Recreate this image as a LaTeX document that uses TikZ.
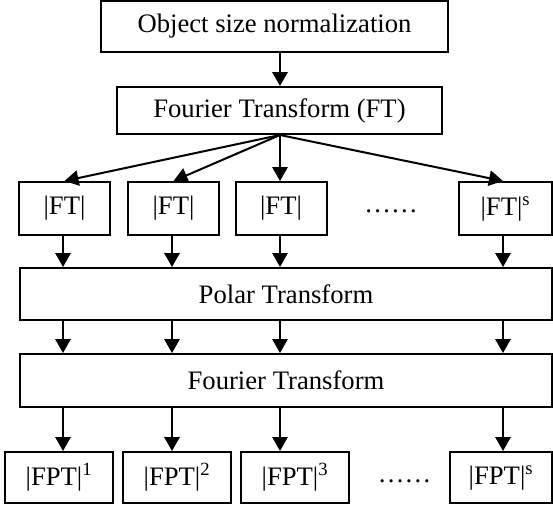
\documentclass[tikz,border=0pt]{standalone}
\usepackage{fontspec}
\setmainfont{Liberation Serif}
\usetikzlibrary{arrows.meta}
\begin{document}
\begin{tikzpicture}[x=0.75pt,y=-0.75pt,
  box/.style={draw=black,line width=1.5pt,inner sep=0pt,align=center,
    font=\fontsize{20}{24}\selectfont},
  dots/.style={inner sep=0pt,font=\fontsize{20}{24}\selectfont},
  arr/.style={line width=1.5pt,-{Triangle[width=11.5pt,length=10.5pt]}}]
\useasboundingbox (0,0) rectangle (553,508);
% top boxes
\node[box,minimum width=347*0.75pt,minimum height=51*0.75pt] (obj) at (274.5,26.5) {Object size normalization};
\node[box,minimum width=325*0.75pt,minimum height=47*0.75pt] (ft) at (279.5,110.5) {Fourier Transform (FT)};
% |FT| row
\node[box,minimum width=91*0.75pt,minimum height=53*0.75pt] (f1) at (64.5,208.5) {|FT|};
\node[box,minimum width=91*0.75pt,minimum height=53*0.75pt] (f2) at (173.5,208.5) {|FT|};
\node[box,minimum width=91*0.75pt,minimum height=53*0.75pt] (f3) at (281,208.5) {|FT|};
\node[dots] (fd) at (391,211) {……};
\node[box,minimum width=93*0.75pt,minimum height=53*0.75pt] (fs) at (505.5,208.5) {|FT|\textsuperscript{s}};
% wide boxes
\node[box,minimum width=532*0.75pt,minimum height=52*0.75pt] (polar) at (286,294) {Polar Transform};
\node[box,minimum width=532*0.75pt,minimum height=53*0.75pt] (four) at (286,380.5) {Fourier Transform};
% |FPT| row
\node[box,minimum width=108*0.75pt,minimum height=51*0.75pt] (p1) at (59,477.5) {|FPT|\textsuperscript{1}};
\node[box,minimum width=108*0.75pt,minimum height=51*0.75pt] (p2) at (177,477.5) {|FPT|\textsuperscript{2}};
\node[box,minimum width=108*0.75pt,minimum height=51*0.75pt] (p3) at (295,477.5) {|FPT|\textsuperscript{3}};
\node[dots] (pd) at (404.5,481) {……};
\node[box,minimum width=102*0.75pt,minimum height=51*0.75pt] (ps) at (501,477.5) {|FPT|\textsuperscript{s}};
% column coordinates for arrows
\coordinate (c1) at (63,0);
\coordinate (c2) at (172,0);
\coordinate (c3) at (280,0);
\coordinate (c4) at (503,0);
% arrows
\draw[arr] (c3 |- obj.south) -- (c3 |- ft.north);
\draw[arr] (c3 |- ft.south) -- (f1.north);
\draw[arr] (c3 |- ft.south) -- (f2.north);
\draw[arr] (c3 |- ft.south) -- (c3 |- f3.north);
\draw[arr] (c3 |- ft.south) -- (c4 |- fs.north);
\foreach \c/\f in {c1/f1,c2/f2,c3/f3,c4/fs}{
  \draw[arr] (\c |- \f.south) -- (\c |- polar.north);
  \draw[arr] (\c |- polar.south) -- (\c |- four.north);
}
\draw[arr] (c1 |- four.south) -- (c1 |- p1.north);
\draw[arr] (c2 |- four.south) -- (c2 |- p2.north);
\draw[arr] (c3 |- four.south) -- (c3 |- p3.north);
\draw[arr] (c4 |- four.south) -- (c4 |- ps.north);
\end{tikzpicture}
\end{document}
